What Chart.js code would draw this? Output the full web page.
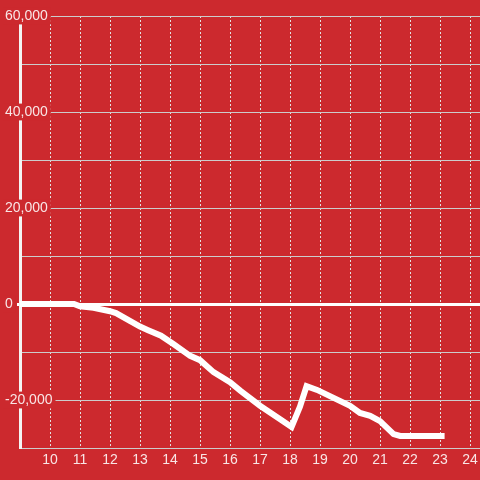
<!DOCTYPE html>
<html lang="en">
<head>
  <meta charset="UTF-8">
  <title>Line chart</title>
  <style>
    body {
      margin: 0;
      background: #cc292e;
    }
    #wrap {
      width: 480px;
      height: 480px;
    }
  </style>
  <script src="https://cdn.jsdelivr.net/npm/chart.js"></script>
</head>
<body>
  <div id="wrap"><canvas id="chart"></canvas></div>

  <script>
    // values
    const xValues = [9, 10, 10.8, 11, 11.45, 12, 12.2, 13, 13.25, 13.7, 14.1, 14.67, 15, 15.45,
                     16, 16.35, 17, 17.67, 18.05, 18.33, 18.55, 18.9, 19.33, 20, 20.33, 20.67,
                     21, 21.45, 21.67, 23.15];
    const yValues = [0, 0, 0, -500, -800, -1500, -1900, -4700, -5400, -6600, -8300, -10800, -11700, -14200,
                     -16300, -18100, -21200, -24000, -25600, -21400, -17100, -17900, -19200, -21200, -22700, -23300,
                     -24400, -27100, -27500, -27500];
    const xMin = 9, xMax = 24.33;
    const yMin = -30000, yMax = 60000;

    const red = '#cc292e';
    const labelColor = 'rgba(255,255,255,0.88)';

    const points = xValues.map((x, i) => ({ x: x, y: yValues[i] }));

    new Chart(document.getElementById('chart'), {
      type: 'line',
      data: {
        datasets: [{
          data: points,
          borderColor: '#ffffff',
          borderWidth: 6,
          borderCapStyle: 'butt',
          pointRadius: 0,
          tension: 0,
          fill: false
        }]
      },
      options: {
        responsive: true,
        maintainAspectRatio: false,
        animation: false,
        layout: { padding: { left: 5, top: 16, right: 0, bottom: 0 } },
        plugins: { legend: { display: false }, tooltip: { enabled: false } },
        scales: {
          x: {
            type: 'linear',
            min: xMin,
            max: xMax,
            afterFit: s => { s.height = 32; s.paddingLeft = 0; s.paddingRight = 0; },
            ticks: {
              stepSize: 1,
              includeBounds: false,
              autoSkip: false,
              maxRotation: 0,
              padding: 4,
              color: labelColor,
              font: { family: 'Liberation Sans', size: 14 },
              callback: v => (v === xMin || v % 1 !== 0) ? '' : v
            },
            grid: {
              drawTicks: false,
              color: ctx => ctx.tick && ctx.tick.value === xMin ? 'transparent' : '#e2e2e2',
              lineWidth: 1
            },
            border: { color: '#cccccc', width: 1, dash: [2, 2] }
          },
          y: {
            min: yMin,
            max: yMax,
            afterFit: s => { s.width = 15; },
            ticks: {
              stepSize: 10000,
              mirror: true,
              crossAlign: 'near',
              padding: -15,
              color: labelColor,
              font: { family: 'Liberation Sans', size: 14 },
              showLabelBackdrop: true,
              backdropPadding: { left: 2, right: 3, top: 0, bottom: 0 },
              backdropColor: ctx => ctx.tick.value % 20000 === 0 ? red : 'transparent',
              callback: v => v % 20000 === 0 ? v.toLocaleString('en-US') : ''
            },
            grid: {
              color: ctx => ctx.tick && ctx.tick.value === 0 ? '#ffffff' : '#cccccc',
              lineWidth: ctx => ctx.tick && ctx.tick.value === 0 ? 3 : 1,
              tickLength: 3,
              tickColor: ctx => ctx.tick && ctx.tick.value === 0 ? '#ffffff' : 'transparent',
              tickWidth: 3
            },
            border: { color: '#f4f4f4', width: 3 }
          }
        }
      }
    });
  </script>
</body>
</html>
